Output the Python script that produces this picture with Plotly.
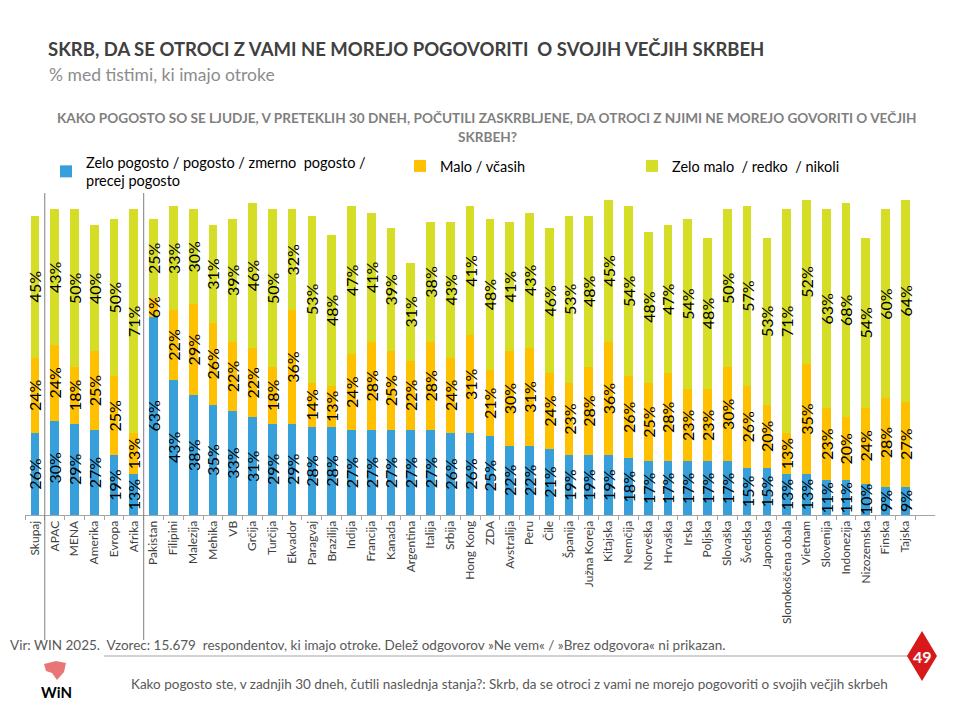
import plotly.graph_objects as go

# kategorije (skupaj, regije, države)
countries = ["Skupaj", "APAC", "MENA", "Amerika", "Evropa", "Afrika",
             "Pakistan", "Filipini", "Malezija", "Mehika", "VB", "Grčija", "Turčija",
             "Ekvador", "Paragvaj", "Brazilija", "Indija", "Francija", "Kanada",
             "Argentina", "Italija", "Srbija", "Hong Kong", "ZDA", "Avstralija",
             "Peru", "Čile", "Španija", "Južna Koreja", "Kitajska", "Nemčija",
             "Norveška", "Hrvaška", "Irska", "Poljska", "Slovaška", "Švedska",
             "Japonska", "Slonokoščena obala", "Vietnam", "Slovenija", "Indonezija",
             "Nizozemska", "Finska", "Tajska"]

often = [26, 30, 29, 27, 19, 13, 63, 43, 38, 35, 33, 31, 29, 29, 28, 28, 27, 27, 27,
         27, 27, 26, 26, 25, 22, 22, 21, 19, 19, 19, 18, 17, 17, 17, 17, 17, 15, 15,
         13, 13, 11, 11, 10, 9, 9]
sometimes = [24, 24, 18, 25, 25, 13, 6, 22, 29, 26, 22, 22, 18, 36, 14, 13, 24, 28, 25,
             22, 28, 24, 31, 21, 30, 31, 24, 23, 28, 36, 26, 25, 28, 23, 23, 30, 26, 20,
             13, 35, 23, 20, 24, 28, 27]
rarely = [45, 43, 50, 40, 50, 71, 25, 33, 30, 31, 39, 46, 50, 32, 53, 48, 47, 41, 39,
          31, 38, 43, 41, 48, 41, 43, 46, 53, 48, 45, 54, 48, 47, 54, 48, 50, 57, 53,
          71, 52, 63, 68, 54, 60, 64]

series_names = ["Zelo pogosto / pogosto / zmerno  pogosto /<br>precej pogosto",
                "Malo / včasih",
                "Zelo malo  / redko  / nikoli"]
colors = ["#37A0DA", "#FFC000", "#D5DD26"]

FONT = "Lato"
OFF = 8                     # body margin of the html page
W, H = 960 - OFF, 720 - OFF
L, R, T, B = 25, 935, 200, 515   # plot area, page pixels


def px(x):
    return (x - L) / (R - L)


def py(y):
    return (B - y) / (B - T)


fig = go.Figure()
legends = ["legend", "legend2", "legend3"]
for vals, name, col, lg in zip([often, sometimes, rarely], series_names, colors, legends):
    fig.add_trace(go.Bar(
        x=countries, y=vals, name=name, legend=lg,
        marker=dict(color=col, line=dict(width=0)),
        text=[f"{v}%" for v in vals],
        textposition="inside", insidetextanchor="middle", textangle=-90,
        textfont=dict(family=FONT, size=16, color="black"),
        cliponaxis=False,
    ))

fig.update_layout(
    width=W, height=H,
    barmode="stack", bargap=0.56,
    plot_bgcolor="white", paper_bgcolor="white",
    margin=dict(l=L - OFF, r=W - (R - OFF), t=T - OFF, b=H - (B - OFF), autoexpand=False),
    font=dict(family=FONT, color="#404040"),
    uniformtext=dict(minsize=16, mode="show"),
    title=dict(text="<b>SKRB, DA SE OTROCI Z VAMI NE MOREJO POGOVORITI  O SVOJIH VEČJIH SKRBEH</b>",
               x=(48 - OFF) / W, xref="container", xanchor="left",
               y=1 - (50 - OFF) / H, yref="container", yanchor="middle",
               font=dict(family=FONT, size=18.5, color="#404040")),
    showlegend=True,
)

legend_pos = [(46, 146), (400, 150), (632, 150)]
for lg, (lx, ly) in zip(legends, legend_pos):
    fig.update_layout({lg: dict(
        x=(lx - OFF) / W, y=1 - (ly - OFF) / H, xref="container", yref="container",
        xanchor="left", yanchor="top", bgcolor="rgba(0,0,0,0)",
        font=dict(family=FONT, size=14.5, color="black"),
        tracegroupgap=0, itemclick=False,
    )})

fig.update_xaxes(
    type="category", range=[-0.5, 45.5], automargin=False,
    tickangle=-90, tickfont=dict(family=FONT, size=12, color="#404040"),
    showline=True, linecolor="#A6A6A6", linewidth=1,
    ticks="outside", tickson="boundaries", ticklen=4, tickcolor="#A6A6A6",
    showgrid=False, fixedrange=True,
)
fig.update_yaxes(range=[0, 100], visible=False, showgrid=False, fixedrange=True,
                 automargin=False)

annotations = [
    dict(text="% med tistimi, ki imajo otroke", x=px(47), y=py(74),
         xanchor="left", yanchor="middle", font=dict(size=17.5, color="#8C8C8C")),
    dict(text="<b>KAKO POGOSTO SO SE LJUDJE, V PRETEKLIH 30 DNEH, POČUTILI ZASKRBLJENE, DA OTROCI Z NJIMI NE MOREJO GOVORITI O VEČJIH</b>",
         x=px(487), y=py(118), xanchor="center", yanchor="middle",
         font=dict(size=13.6, color="#7F7F7F")),
    dict(text="<b>SKRBEH?</b>", x=px(487), y=py(137), xanchor="center", yanchor="middle",
         font=dict(size=13.6, color="#7F7F7F")),
    dict(text="Vir: WIN 2025.  Vzorec: 15.679  respondentov, ki imajo otroke. Delež odgovorov »Ne vem« / »Brez odgovora« ni prikazan.",
         x=px(8), y=py(645), xanchor="left", yanchor="middle",
         font=dict(size=13.5, color="#595959")),
    dict(text="Kako pogosto ste, v zadnjih 30 dneh, čutili naslednja stanja?: Skrb, da se otroci z vami ne morejo pogovoriti o svojih večjih skrbeh",
         x=px(129), y=py(684), xanchor="left", yanchor="middle",
         font=dict(size=13.5, color="#595959")),
    dict(text="<b>49</b>", x=px(922), y=py(656), xanchor="center", yanchor="middle",
         font=dict(size=16, color="white")),
    dict(text="<b>WiN</b>", x=px(39), y=py(692), xanchor="left", yanchor="middle",
         font=dict(size=15, color="black")),
]
for a in annotations:
    a.update(xref="paper", yref="paper", showarrow=False)
fig.update_layout(annotations=annotations)

shapes = []
# ločnici med skupaj / regijami / državami
for xv in [0.5, 5.5]:
    shapes.append(dict(type="line", xref="x", yref="paper", x0=xv, x1=xv,
                       y0=py(640), y1=py(193), line=dict(color="#7F7F7F", width=1)))
# črta nad opombo
shapes.append(dict(type="line", xref="paper", yref="paper", x0=px(104), x1=px(915),
                   y0=py(656), y1=py(656), line=dict(color="#A6A6A6", width=1.2)))
# rdeč romb s številko strani
shapes.append(dict(type="path", xref="paper", yref="paper",
                   path=f"M {px(922)} {py(631)} L {px(937)} {py(656)} L {px(922)} {py(681)} L {px(907)} {py(656)} Z",
                   fillcolor="#D7191C", line=dict(width=0)))
# logotip (poenostavljen zemljevid)
shapes.append(dict(type="path", xref="paper", yref="paper",
                   path=(f"M {px(44)} {py(664)} L {px(56)} {py(661)} L {px(66)} {py(663)} "
                         f"L {px(64)} {py(672)} L {px(57)} {py(680)} L {px(52)} {py(673)} "
                         f"L {px(46)} {py(671)} Z"),
                   fillcolor="#E04848", line=dict(width=0), opacity=0.75))
fig.update_layout(shapes=shapes)

fig.write_html("out.html")
